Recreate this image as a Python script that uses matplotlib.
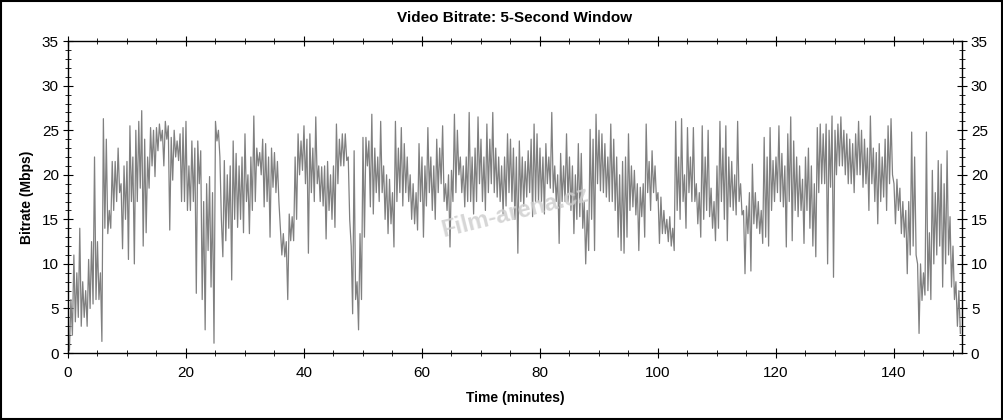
import numpy as np
import matplotlib
matplotlib.use("Agg")
import matplotlib.pyplot as plt
from matplotlib.ticker import MultipleLocator
from matplotlib.patches import Rectangle

# bitrate in Mbps as (high, low) pairs every 0.5 min
bitrate = [
    1.5, 0.3, 6, 2, 11, 3.5, 9, 4, 14, 3, 8, 4, 7, 3, 10.5, 5, 12.5, 5.5, 22, 6,  # 0-5
    12.5, 6, 9, 1.3, 26.3, 14, 24, 13.4, 16, 14, 21.5, 16, 21.5, 17, 23, 18, 19, 11.7, 21, 15,  # 5-10
    21.5, 10.5, 25.5, 17, 22, 10, 25, 17, 26, 18.5, 27.2, 12, 24, 13.5, 22, 18.5, 25.3, 21, 25, 19.8,  # 10-15
    25.3, 22.7, 25.7, 23.8, 25, 21, 26, 24, 25.5, 13.8, 24.2, 19.4, 25, 22, 23.8, 21.6, 24.6, 17, 25.3, 17,  # 15-20
    26, 16, 21, 16, 23.8, 17, 23, 6.7, 23.8, 19, 22.7, 6, 17, 2.6, 19, 11.5, 19.8, 7.4, 18, 1.1,  # 20-25
    26, 23.8, 25, 22, 15, 10.8, 21.6, 12.6, 20, 14, 21, 8.2, 23.8, 15, 22.4, 14.1, 21, 15, 22, 13.5,  # 25-30
    24.6, 17, 20, 13.4, 22, 16, 26.6, 17, 23, 21, 22.5, 20, 24, 16.4, 23.5, 17, 22, 13, 23, 18.6,  # 30-35
    22.5, 18, 21.5, 17, 14, 11, 13.4, 10.8, 12.5, 6, 15.6, 12.6, 15.3, 12.6, 22, 15, 24.6, 20, 23.8, 20.5,  # 35-40
    25.5, 19, 24, 11.2, 24.6, 18, 23, 17, 26.5, 19, 21, 17, 20.9, 16.5, 21, 12.8, 21.5, 16, 20, 15,  # 40-45
    21, 14.1, 25.7, 19, 24, 21, 24.6, 21, 24.6, 21.6, 22, 15, 12, 4.4, 22.7, 6, 8, 2.6, 13.4, 6,  # 45-50
    24.2, 13, 24.2, 21, 23.8, 16.4, 26.8, 15.6, 23, 18, 22, 17, 26, 18, 21, 15, 20, 13.4, 19.5, 14.5,  # 50-55
    18, 11.9, 26, 17, 23, 18, 25.3, 16.5, 23.5, 18, 22, 17, 20, 15, 19, 14.5, 18, 13.8, 23.5, 17,  # 55-60
    22, 13, 21, 16.5, 25.3, 18, 22, 16, 21, 15, 24, 18, 23, 19, 25.5, 17, 19, 16, 20, 11.9,  # 60-65
    20.5, 17, 26.8, 18, 25, 20, 22, 18, 21, 16.4, 22, 17, 27, 17, 22, 15.6, 23, 17, 26.5, 19,  # 65-70
    24, 17, 22, 16, 25.7, 18, 24, 19, 27, 18, 23, 17.5, 22, 17, 21, 15.6, 22, 16.5, 24.6, 18,  # 70-75
    24, 17, 23, 15, 22, 11.2, 23.8, 17, 22, 16.5, 21.5, 17.5, 22.7, 18, 24, 15.3, 25.7, 17, 24.6, 17,  # 75-80
    23, 17, 22, 15.6, 23.5, 19, 22, 18.5, 27, 18, 21, 17, 20, 12.3, 22.4, 17, 21, 17, 24.6, 17,  # 80-85
    22, 16, 21, 13.4, 20, 15, 23.5, 15.3, 22.4, 14, 17, 10, 16, 11.5, 25.1, 15, 24, 11.5, 26.8, 19,  # 85-90
    25, 18.2, 24.6, 18, 23.5, 17.5, 22, 17, 25.7, 17, 24, 16, 22, 13, 20, 11.5, 21.5, 11.2, 22, 13,  # 90-95
    24.6, 16, 21, 16.4, 20.5, 15.5, 19, 11.5, 18.6, 15.3, 19, 13, 25.7, 18, 21.5, 16, 22.7, 18, 21, 17.1,  # 95-100
    18, 12.3, 17.5, 13.4, 16, 13.4, 15, 12.5, 15.3, 12, 14, 11.5, 26, 16, 22, 15, 26.3, 17, 20, 14,  # 100-105
    25.3, 18, 22, 17, 25.3, 17, 19, 14.5, 18, 13, 25.5, 15, 22, 16, 25, 15.3, 18.5, 14, 17, 12.6,  # 105-110
    21, 14, 26, 17, 23, 15, 25.5, 12.6, 22, 16.4, 21.5, 16, 20, 15.5, 26, 17, 19, 15.5, 16, 8.9,  # 110-115
    16.5, 13.4, 18, 9.2, 21.2, 14.5, 18, 14, 17, 13.4, 16, 12.3, 24.2, 13, 22, 12, 25.3, 16, 21.6, 17,  # 115-120
    22, 18, 25.5, 17, 22.4, 16.4, 21, 11.9, 24.6, 17, 26.5, 12.6, 23.8, 16, 22, 15.3, 21, 16, 19.5, 12.3,  # 120-125
    22, 16, 23, 14, 21, 12, 19, 10.8, 25.3, 18, 25.7, 19, 24.6, 19, 25.7, 10, 25, 18.6, 26.6, 8.5,  # 125-130
    25, 20, 25.7, 21, 26.5, 21, 25, 20, 24.6, 19, 24, 19, 23.5, 18, 24.6, 20, 26, 20, 25, 18.6,  # 130-135
    24, 19, 23, 16, 26.6, 19, 23, 17, 22.5, 14.5, 23.5, 17, 22, 17.5, 24, 16, 25.5, 19, 26.3, 20,  # 135-140
    19, 14.5, 19.5, 16, 18.5, 13.4, 17, 13, 16, 8.9, 17, 11, 24.8, 12, 22, 11, 10, 2.2, 10, 5.9,  # 140-145
    9, 6.5, 24.8, 7, 13.5, 6, 20.5, 10, 18, 11, 21.6, 12, 21.2, 7.4, 19, 10, 22.7, 11, 15.3, 7.4,  # 145-150
    12, 6, 8, 3, 7, 2.2,  # 150-151.5
]
step_min = 0.25
time_min = np.arange(len(bitrate)) * step_min

title = "Video Bitrate: 5-Second Window"
xlabel = "Time (minutes)"
ylabel = "Bitrate (Mbps)"

plt.rcParams['font.family'] = ['Liberation Sans', 'DejaVu Sans']

fig = plt.figure(figsize=(10.04, 4.2), dpi=100)
ax = fig.add_axes([0.0677, 0.1595, 0.8903, 0.7425])

ax.plot(time_min, bitrate, color='#808080', lw=0.9, zorder=2)

ax.set_xlim(0, 151.5)
ax.set_ylim(0, 35)
ax.xaxis.set_major_locator(MultipleLocator(20))
ax.xaxis.set_minor_locator(MultipleLocator(5))
ax.yaxis.set_major_locator(MultipleLocator(5))
ax.yaxis.set_minor_locator(MultipleLocator(1))
ax.tick_params(which='major', direction='inout', length=7, width=0.8,
               top=True, right=True, labelright=True, labelsize=11, colors='black', pad=3)
ax.tick_params(which='minor', direction='inout', length=4, width=0.6, top=True, right=True)
ax.tick_params(axis='x', which='major', pad=6)
for s in ax.spines.values():
    s.set_linewidth(1.0)

ax.set_title(title, fontsize=11, fontweight='bold', pad=14)
ax.set_xlabel(xlabel, fontsize=10, fontweight='bold', labelpad=8)
ax.set_ylabel(ylabel, fontsize=10, fontweight='bold', labelpad=6)

# watermark
ax.text(0.5, 0.45, "Film-arena.cz", transform=ax.transAxes, fontsize=17, fontweight='bold',
        color='#cfcfcf', alpha=0.85, rotation=14, ha='center', va='center', zorder=3)

fig.patches.append(Rectangle((0.001, 0.002), 0.997, 0.995, transform=fig.transFigure,
                             fill=False, edgecolor='black', lw=1.5))

fig.savefig("out.png", dpi=100)
